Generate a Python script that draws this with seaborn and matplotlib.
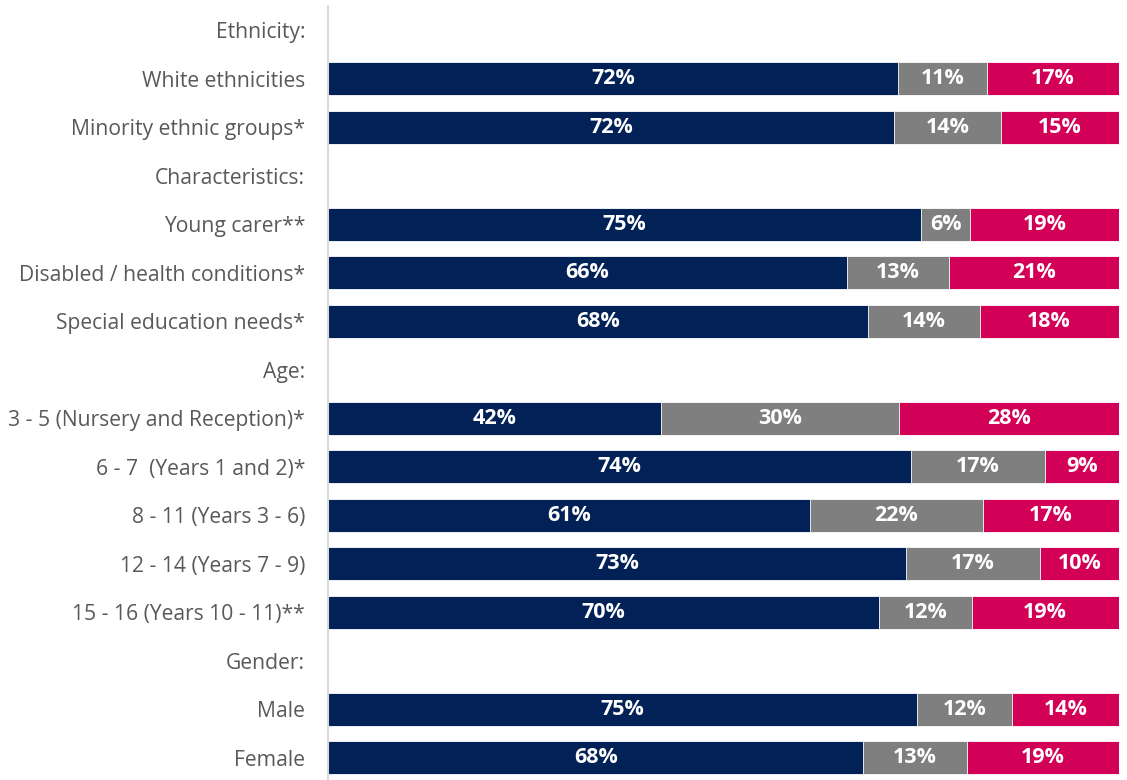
import matplotlib
matplotlib.use("Agg")
import matplotlib.pyplot as plt
import seaborn as sns
import pandas as pd
import numpy as np

# Row order (headers have no bars)
rows = [
    "Ethnicity:",
    "White ethnicities",
    "Minority ethnic groups*",
    "Characteristics:",
    "Young carer**",
    "Disabled / health conditions*",
    "Special education needs*",
    "Age:",
    "3 - 5 (Nursery and Reception)*",
    "6 - 7  (Years 1 and 2)*",
    "8 - 11 (Years 3 - 6)",
    "12 - 14 (Years 7 - 9)",
    "15 - 16 (Years 10 - 11)**",
    "Gender:",
    "Male",
    "Female",
]

groups = [
    "White ethnicities",
    "Minority ethnic groups*",
    "Young carer**",
    "Disabled / health conditions*",
    "Special education needs*",
    "3 - 5 (Nursery and Reception)*",
    "6 - 7  (Years 1 and 2)*",
    "8 - 11 (Years 3 - 6)",
    "12 - 14 (Years 7 - 9)",
    "15 - 16 (Years 10 - 11)**",
    "Male",
    "Female",
]

# segment shares (%)
navy_vals = [72.1, 71.6, 75.0, 65.6, 68.3, 42.1, 73.7, 61.0, 73.1, 69.7, 74.5, 67.7]
gray_vals = [11.3, 13.5, 6.2, 12.9, 14.1, 30.1, 17.0, 21.8, 16.9, 11.7, 12.0, 13.1]
pink_vals = [16.6, 14.9, 18.8, 21.5, 17.6, 27.8, 9.3, 17.2, 10.0, 18.6, 13.5, 19.2]

# printed labels
navy_lbl = ["72%", "72%", "75%", "66%", "68%", "42%", "74%", "61%", "73%", "70%", "75%", "68%"]
gray_lbl = ["11%", "14%", "6%", "13%", "14%", "30%", "17%", "22%", "17%", "12%", "12%", "13%"]
pink_lbl = ["17%", "15%", "19%", "21%", "18%", "28%", "9%", "17%", "10%", "19%", "14%", "19%"]

NAVY = "#022157"
GRAY = "#7F7F7F"
PINK = "#D20057"

sns.set_theme(style="white")
plt.rcParams["font.family"] = ["Open Sans", "DejaVu Sans"]

df = pd.DataFrame({
    "group": groups,
    "navy": navy_vals,
    "gray": gray_vals,
    "pink": pink_vals,
})
df["c1"] = df["navy"]
df["c2"] = df["navy"] + df["gray"]
df["c3"] = df["navy"] + df["gray"] + df["pink"]

fig = plt.figure(figsize=(11.27, 7.8), dpi=100)
ax = fig.add_axes([328 / 1127, 0.0, (1118.7 - 328) / 1127, 1 - 5.75 / 780])

common = dict(data=df, y="group", order=rows, orient="h", width=0.68,
              saturation=1, edgecolor="white", linewidth=0.6, ax=ax)
sns.barplot(x="c3", color=PINK, **common)
sns.barplot(x="c2", color=GRAY, **common)
sns.barplot(x="c1", color=NAVY, **common)

pos = {r: i for i, r in enumerate(rows)}
for i, g in enumerate(groups):
    y = pos[g]
    n, gr, p = navy_vals[i], gray_vals[i], pink_vals[i]
    kw = dict(ha="center", va="center", color="white", fontsize=15.5, fontweight="bold")
    ax.text(n / 2, y, navy_lbl[i], **kw)
    ax.text(n + gr / 2, y, gray_lbl[i], **kw)
    ax.text(n + gr + p / 2, y, pink_lbl[i], **kw)

ax.set_xlim(0, df["c3"].max())
ax.set_ylim(15.4536, -0.5)
ax.set_xlabel("")
ax.set_ylabel("")
ax.set_xticks([])
ax.tick_params(axis="y", length=0, pad=16.5, labelsize=15.2, labelcolor="#595959")
for t in ax.get_yticklabels():
    t.set_y(t.get_position()[1])
for s in ["top", "right", "bottom"]:
    ax.spines[s].set_visible(False)
ax.spines["left"].set_color("#D9D9D9")
ax.spines["left"].set_linewidth(1.5)

fig.savefig("out.png", dpi=100)
